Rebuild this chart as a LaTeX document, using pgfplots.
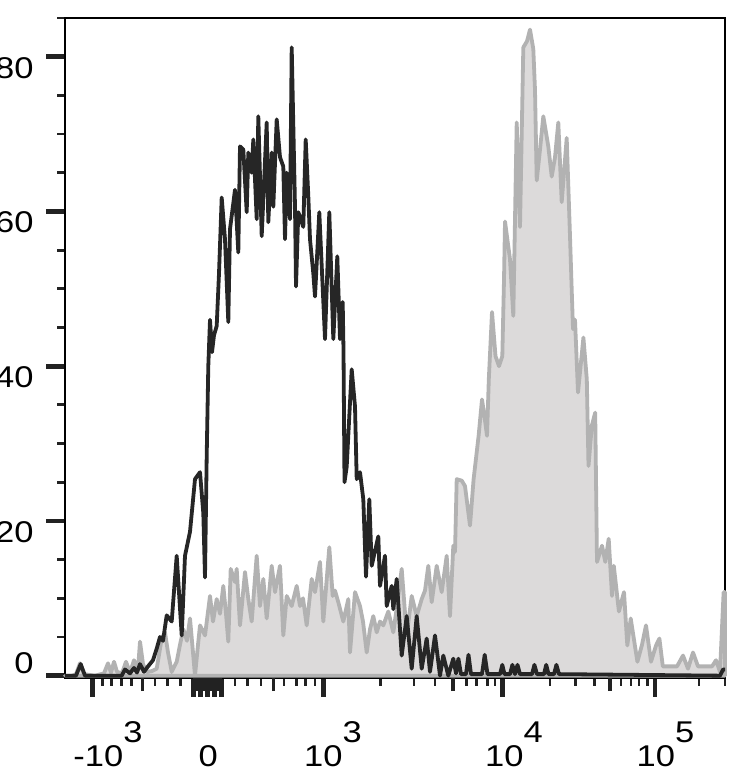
\documentclass[border=0pt]{standalone}
\usepackage{pgfplots}
\pgfplotsset{compat=1.18}
\usepackage{graphicx}
\usepackage{fontspec}
\setmainfont{Liberation Sans}

\definecolor{grayfill}{HTML}{DCDADA}
\definecolor{grayline}{HTML}{B2B2B2}
\definecolor{blk}{HTML}{262626}
\definecolor{tickc}{HTML}{222222}

% label text, Arial-like and a little wide as in the scan
\newcommand{\lab}[1]{\fontsize{15}{17}\selectfont\scalebox{1.15}[1]{#1}}
\newcommand{\ex}[1]{\raisebox{11.9pt}{#1}}

\begin{document}
\begin{tikzpicture}
\begin{axis}[
  scale only axis,
  width=330pt, height=330pt,
  xmin=65, xmax=725,
  ymin=-0.3, ymax=85,
  clip=false,
  axis line style={line width=0.8pt, black},
  tick align=outside,
  xtick pos=bottom, ytick pos=left,
  % display channel of the logicle axis (one unit per pixel of the scan)
  xtick={92.3,193.3,200.25,207.5,214.75,221.7,323.3,502.6,655},
  minor xtick={102.7,111.7,121.7,131.7,155,167.7,180.7,235,247.7,261,284,296.7,305.7,315,
               380.3,414,435,466.5,476.6,487.4,495,550,575.7,594.8,621,631,639,647.5,699,725},
  extra x ticks={142.3,273.3,453,610,
                 194.45,195.9,197.35,198.8,201.7,203.15,204.6,206.05,
                 208.95,210.4,211.85,213.3,216.2,217.65,219.1,220.55},
  extra x tick labels={},
  extra x tick style={major tick length=6.5pt, major tick style={line width=1.8pt}},
  ytick={0,20,40,60,80},
  minor ytick={5,10,15,25,30,35,45,50,55,65,70,75,85},
  xticklabels={}, yticklabels={},
  major tick length=9.25pt, minor tick length=3.75pt,
  major tick style={line width=2.4pt, color=tickc},
  minor tick style={line width=1.4pt, color=tickc},
]

% stained sample (filled, grey)
\addplot[fill=grayfill, draw=grayline, line width=1.9pt, line join=round] table {
x y
65 0
72 0
76 0.2
80 1.6
84 0.2
95 0
104 0.3
108 1.6
111 0.4
114 1.8
117 0.5
122 0.3
126 1.8
130 0.4
134 2.0
138 0.8
140 4.4
143 1.5
146.7 0.5
152 0.6
156.7 0.9
161.7 4.8
165 5.6
168 3
171.7 0.5
176.7 1.8
180 4
183.3 6
187 4.5
190 7.4
193 3
195 0
198 4
200 6.5
205 5.2
210 10.3
213 7
216.7 9.9
220 8
223.3 11.6
226 8
228.3 4.4
230.7 13.8
235 12.1
236.7 13.8
240 6.5
245 13.4
248.3 9.9
251.7 7
256.7 15.5
260 9
263.3 12.5
266.7 7.4
271.7 14.2
275 10.8
280 14.2
283.3 5.2
286.7 10.3
291.7 9
296.7 11.6
300 9
303 10
306.7 6.5
311.7 12.5
315 10.8
320 14.7
323.3 7
329.3 16.6
332.7 10.3
335 11
338.3 9.5
343.3 7
348.3 9.9
350 3
355 10.8
360 9
363 7
366.7 3
370 6
373.3 7.7
376.7 5.6
380 7
383.3 6.5
388.3 8.3
393.3 5.6
397 9
401.7 13.8
406.7 5.2
411.7 10.3
416.7 7.7
421.7 9.9
425 11
428.3 14.2
431.7 9.5
436.7 14.2
441.7 10.8
446.7 15.5
450 7.7
453.3 16.8
455 16
456.7 25.4
461.8 25.2
465 24.5
470 19.4
473.6 25.4
478.6 31
482 35.7
485 33
487 31
488.8 38.3
492 47
495.5 41.3
499 40
502.3 41.3
504 51.2
505 58.7
510 53.8
513.3 46.5
516.7 71.5
520 58
523.3 81.2
527 82
530 83.5
533.3 81
535 75.7
536.7 64
540 68
543.3 72.3
548.3 68.4
551.7 64.5
555 67
558.3 71.5
561.7 61.2
566.7 69.5
570 56.8
571.6 50.3
573 44.8
575 46
578 36.6
583.4 43.7
586.8 38.3
588.5 27.1
591.8 32.3
595.2 34
597 14.7
602 16.8
605.3 14.7
608.7 17.7
612 10.3
613.8 14.2
618.9 8.3
624 10.8
627.3 3.9
630.7 7.4
637.4 1.8
642 4
646 6.5
651 1.8
656 3.9
659.4 4.8
662.8 1.2
671 1.2
677 1.2
683 2.6
688 0.9
693 3
698 1.2
712 1.2
716 2
720 0.5
723.6 10.8
725 10.8
} \closedcycle;

% control (black line)
\addplot[draw=blk, line width=1.9pt, line join=round] table {
x y
65 0
76 0
80.7 1.5
85 0
121.7 0
125 0.8
130 0.3
134 1.0
137 0.4
140 1.5
144 0.5
148 1.2
153 2
156.7 3.5
160 5
163 4.5
166.7 7.8
171.7 7
176.7 15.5
181.7 5.2
185 15.5
190 18.6
195 25.4
200 26.3
203.3 21
205 12.7
206.7 28.4
208.3 40
210 46
212 41.8
214 44
216.7 45.2
219 52
221.7 61.8
225 56.4
228.3 45.7
230 57.7
235 62.8
238.3 54.7
240 68.4
243.3 68
246.7 59.9
248.3 67.6
251.7 65
253.3 69.3
256.7 59
258.3 72.3
261.7 56.8
266.7 71.5
268.3 58.6
271.7 67.6
273.3 60.6
276.7 71.9
280 67
283.3 65.8
285 56.4
286.7 65
290 59
291.7 81.2
295 60.6
296 50.3
298.3 59.9
303.3 58
305.7 69.3
308.3 62
310 56.4
313.3 52
315 49
319.3 59.9
325 43.5
329.3 59.9
333.3 43.5
337.3 54.2
340 43.5
342.7 48.3
343.5 42
344.5 25
346.7 27
351.7 39.6
355 34.8
356.7 25.4
360 26.3
363.3 22.8
366 12.8
369.3 22.8
371.7 14.2
378.3 18
380 11.6
385 15.5
386.7 9
391.7 11.6
393.3 8.6
396.7 12.5
401.7 2.6
406.7 7.7
411.7 0.9
416.7 7.7
421.7 0.9
426.7 4.8
430 0.5
435 5.2
440 0
443.3 2.6
448.3 0
453.3 2.2
456 0.3
458.4 2.2
461 0.2
466 0.2
468.5 2.7
471 0.2
482 0.2
484.7 2.7
487.5 0.2
500 0.2
502.3 1.4
504.5 0.2
510 0.2
512.4 1.4
515 0.2
517.5 1.4
520 0.2
532 0.2
534.4 1.4
537 0.2
544 0.2
546.2 1.4
548.5 0.2
554 0.2
556.4 1.4
559 0.2
720 0
723 0.8
725 0.8
};

% tick labels
\node[anchor=north east, inner sep=0pt, xshift=-15.5pt] at (axis cs:65,80) {\lab{80}};
\node[anchor=north east, inner sep=0pt, xshift=-15.5pt] at (axis cs:65,60) {\lab{60}};
\node[anchor=north east, inner sep=0pt, xshift=-15.5pt] at (axis cs:65,40) {\lab{40}};
\node[anchor=north east, inner sep=0pt, xshift=-15.5pt] at (axis cs:65,20) {\lab{20}};
\node[anchor=south east, inner sep=0pt, xshift=-15.5pt] at (axis cs:65,0.2) {\lab{0}};

\node[anchor=base, inner sep=0pt, yshift=-44.3pt] at (axis cs:108,-0.3) {\lab{-10\ex{3}}};
\node[anchor=base, inner sep=0pt, yshift=-44.3pt] at (axis cs:208.3,-0.3) {\lab{0}};
\node[anchor=base, inner sep=0pt, yshift=-44.3pt] at (axis cs:333,-0.3) {\lab{10\ex{3}}};
\node[anchor=base, inner sep=0pt, yshift=-44.3pt] at (axis cs:514,-0.3) {\lab{10\ex{4}}};
\node[anchor=base, inner sep=0pt, yshift=-44.3pt] at (axis cs:665.5,-0.3) {\lab{10\ex{5}}};
\end{axis}
% page as in the scan: the y labels run off the left edge
\pgfresetboundingbox
\path[use as bounding box] ([xshift=-32.5pt,yshift=-51pt]current axis.south west)
  rectangle ([xshift=3.5pt,yshift=9pt]current axis.north east);
\end{tikzpicture}
\end{document}
